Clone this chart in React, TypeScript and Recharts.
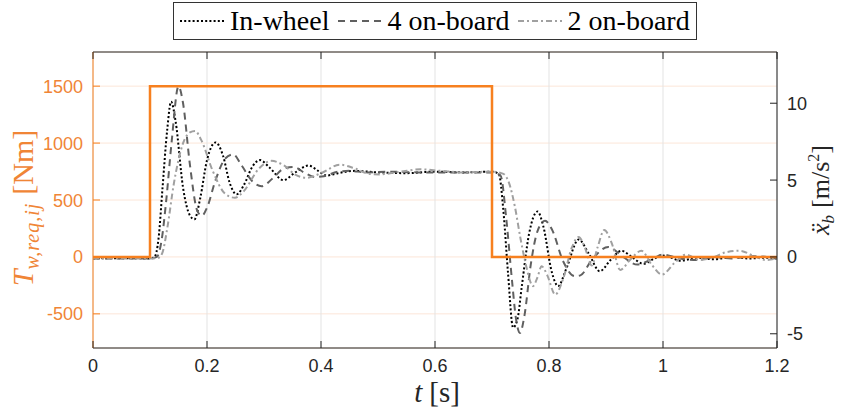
import React from 'react';
import { LineChart, Line, XAxis, YAxis, CartesianGrid } from 'recharts';

// ---------- data ----------
const timeTicks = [0, 0.2, 0.4, 0.6, 0.8, 1, 1.2];
const torqueTicks = [-500, 0, 500, 1000, 1500];
const accTicks = [-5, 0, 5, 10];
const torqueDomain = [-800, 1800];
const accDomain = [-800 / 135, 1800 / 135];

const seriesNames = ['In-wheel', '4 on-board', '2 on-board'];

// requested wheel torque [Nm] (step)
const stepT = [0, 0.1, 0.7, 1.2];
const stepTorque = [0, 1500, 0, 0];

// body acceleration [m/s^2]
const inWheelT = [0, 0.05, 0.1, 0.108, 0.115, 0.122, 0.13, 0.137, 0.145, 0.158, 0.17, 0.178, 0.188, 0.2, 0.215, 0.228, 0.24, 0.252, 0.265, 0.28, 0.293, 0.31, 0.334, 0.355, 0.378, 0.395, 0.41, 0.43, 0.46, 0.5, 0.55, 0.6, 0.65, 0.7, 0.712, 0.72, 0.728, 0.737, 0.745, 0.752, 0.765, 0.78, 0.79, 0.805, 0.816, 0.83, 0.852, 0.87, 0.889, 0.908, 0.927, 0.945, 0.966, 0.985, 0.998, 1.015, 1.03, 1.06, 1.09, 1.12, 1.15, 1.18, 1.2];
const inWheelAcc = [-0.1, -0.08, -0.1, 0.0, 1.2, 4.5, 8.2, 10.1, 8.8, 4.5, 2.7, 2.45, 3.8, 6.3, 7.45, 6.6, 4.8, 4.07, 4.7, 5.9, 6.3, 5.8, 5.0, 5.5, 5.95, 5.6, 5.3, 5.45, 5.6, 5.5, 5.45, 5.55, 5.5, 5.55, 5.4, 3.0, -1.0, -4.6, -4.0, -2.0, 1.5, 2.95, 2.0, -1.0, -1.9, -0.8, 1.13, 0.2, -0.93, -0.2, 0.4, 0.0, -0.45, -0.1, 0.1, -0.05, -0.25, -0.05, -0.15, 0.0, -0.1, -0.05, -0.1];

const fourOnBoardT = [0, 0.05, 0.1, 0.112, 0.12, 0.128, 0.138, 0.15, 0.158, 0.17, 0.183, 0.191, 0.2, 0.215, 0.232, 0.246, 0.26, 0.28, 0.296, 0.315, 0.335, 0.352, 0.37, 0.39, 0.405, 0.43, 0.45, 0.48, 0.52, 0.57, 0.62, 0.67, 0.7, 0.715, 0.725, 0.735, 0.742, 0.749, 0.757, 0.768, 0.78, 0.793, 0.805, 0.825, 0.845, 0.855, 0.875, 0.904, 0.93, 0.955, 0.98, 1.0, 1.03, 1.06, 1.09, 1.12, 1.16, 1.2];
const fourOnBoardAcc = [-0.1, -0.1, -0.1, 0.0, 1.0, 3.5, 7.5, 11.1, 10.0, 6.0, 3.0, 2.68, 3.2, 5.0, 6.4, 6.67, 6.0, 4.9, 4.6, 5.1, 5.75, 5.85, 5.5, 5.2, 5.25, 5.55, 5.6, 5.5, 5.55, 5.5, 5.5, 5.5, 5.5, 5.3, 2.5, -1.5, -4.0, -4.95, -3.8, -0.5, 1.7, 2.35, 1.8, -0.3, -1.25, -1.2, -0.2, 0.65, 0.0, -0.5, -0.15, 0.15, -0.1, -0.2, 0.0, -0.1, 0.05, -0.1];

const twoOnBoardT = [0, 0.05, 0.1, 0.115, 0.122, 0.13, 0.142, 0.158, 0.17, 0.179, 0.19, 0.21, 0.232, 0.249, 0.265, 0.29, 0.313, 0.335, 0.355, 0.375, 0.4, 0.433, 0.46, 0.485, 0.503, 0.54, 0.574, 0.61, 0.65, 0.7, 0.72, 0.73, 0.74, 0.75, 0.76, 0.772, 0.78, 0.787, 0.797, 0.811, 0.825, 0.84, 0.852, 0.863, 0.875, 0.885, 0.897, 0.91, 0.925, 0.942, 0.962, 0.98, 0.998, 1.02, 1.04, 1.065, 1.09, 1.11, 1.135, 1.16, 1.18, 1.2];
const twoOnBoardAcc = [-0.1, -0.1, -0.1, -0.05, 0.3, 1.8, 4.8, 7.4, 8.1, 8.2, 7.6, 5.6, 4.1, 3.85, 4.3, 5.7, 6.25, 5.95, 5.35, 5.15, 5.45, 6.0, 5.75, 5.4, 5.37, 5.55, 5.7, 5.6, 5.5, 5.55, 5.4, 4.8, 3.3, 1.2, -0.6, -1.9, -1.3, -0.6, -1.2, -2.45, -1.4, 0.6, 1.3, 0.6, -0.55, 0.6, 1.75, 0.9, -0.85, -0.2, 0.4, -0.5, -1.15, -0.4, 0.15, -0.2, 0.0, 0.3, 0.4, 0.05, -0.2, -0.1];

// ---------- styling ----------
const ORANGE = '#F7801F';
const ORANGE_TEXT = '#F08536';
const SERIF = '"Liberation Serif", "Times New Roman", serif';
const SANS = '"Liberation Sans", Arial, sans-serif';
const TICK_LEN = 7;

const toPoints = (ts: number[], vs: number[]) => ts.map((t, i) => ({ t, v: vs[i] }));

const seriesStyles = [
  { color: '#000000', dash: '2 2.2', width: 2 },
  { color: '#606060', dash: '7 5', width: 2 },
  { color: '#A0A0A0', dash: '6 3 2 3', width: 2 },
];
const seriesData = [
  toPoints(inWheelT, inWheelAcc),
  toPoints(fourOnBoardT, fourOnBoardAcc),
  toPoints(twoOnBoardT, twoOnBoardAcc),
];
const stepData = toPoints(stepT, stepTorque);

const fmt = (v: number) => String(v);

const BottomTick = (props: any) => {
  const { x, y, payload } = props;
  return (
    <g>
      <line x1={x} x2={x} y1={y} y2={y - TICK_LEN} stroke="#222" strokeWidth={1} />
      <text x={x} y={y + 24} textAnchor="middle" fontFamily={SANS} fontSize={18} fill="#262626">
        {fmt(payload.value)}
      </text>
    </g>
  );
};

const TopTick = (props: any) => {
  const { x, y } = props;
  return <line x1={x} x2={x} y1={y} y2={y + TICK_LEN} stroke="#222" strokeWidth={1} />;
};

const LeftTick = (props: any) => {
  const { x, y, payload } = props;
  return (
    <g>
      <line x1={x} x2={x + TICK_LEN} y1={y} y2={y} stroke={ORANGE} strokeWidth={1} />
      <text x={x - 10} y={y + 6.5} textAnchor="end" fontFamily={SANS} fontSize={18} fill={ORANGE_TEXT}>
        {fmt(payload.value)}
      </text>
    </g>
  );
};

const RightTick = (props: any) => {
  const { x, y, payload } = props;
  return (
    <g>
      <line x1={x} x2={x - TICK_LEN} y1={y} y2={y} stroke="#222" strokeWidth={1} />
      <text x={x + 10} y={y + 6.5} textAnchor="start" fontFamily={SANS} fontSize={18} fill="#262626">
        {fmt(payload.value)}
      </text>
    </g>
  );
};

const LeftTitle = () => (
  <text x={33} y={208} transform="rotate(-90, 33, 208)" textAnchor="middle" fontFamily={SERIF} fontSize={30} fill={ORANGE_TEXT}>
    <tspan fontStyle="italic">T</tspan>
    <tspan fontStyle="italic" fontSize={20} dy={6} letterSpacing={1}>w,req,ij</tspan>
    <tspan dy={-6} dx={8}>[Nm]</tspan>
  </text>
);

const RightTitle = () => (
  <text x={829} y={190} transform="rotate(-90, 829, 190)" textAnchor="middle" fontFamily={SERIF} fontSize={26} fill="#262626">
    <tspan fontStyle="italic">ẍ</tspan>
    <tspan fontStyle="italic" fontSize={17} dy={5}>b</tspan>
    <tspan dy={-5} dx={7}>[m/s</tspan>
    <tspan fontSize={16} dy={-10}>2</tspan>
    <tspan dy={10}>]</tspan>
  </text>
);

const BottomTitle = () => (
  <text x={437} y={402} textAnchor="middle" fontFamily={SERIF} fontSize={29} fill="#262626">
    <tspan fontStyle="italic">t</tspan>
    <tspan dx={7}>[s]</tspan>
  </text>
);

const LegendBox = () => (
  <div
    style={{
      position: 'absolute',
      left: 173,
      top: 2,
      height: 36,
      border: '1px solid #333',
      background: '#fff',
      display: 'flex',
      alignItems: 'center',
      padding: '0 6px',
      fontFamily: SERIF,
      fontSize: 28,
      color: '#000',
      whiteSpace: 'nowrap',
    }}
  >
    {seriesNames.map((name, i) => (
      <div key={name} style={{ display: 'flex', alignItems: 'center', marginLeft: i === 0 ? 0 : 8 }}>
        <svg width={44} height={10} style={{ display: 'block' }}>
          <line x1={0} x2={44} y1={5} y2={5} stroke={seriesStyles[i].color} strokeWidth={seriesStyles[i].width} strokeDasharray={seriesStyles[i].dash} />
        </svg>
        <span style={{ marginLeft: 6, lineHeight: '36px' }}>{name}</span>
      </div>
    ))}
  </div>
);

export default function App() {
  return (
    <div style={{ position: 'absolute', left: 0, top: 0, width: 841, height: 413, background: '#fff' }}>
      <LineChart width={841} height={413} margin={{ top: 42, right: 0, bottom: 0, left: 0 }}>
        <CartesianGrid xAxisId="bottom" yAxisId="left" vertical={false} stroke="#FCE6D8" strokeWidth={1} />
        <CartesianGrid xAxisId="bottom" yAxisId="left" horizontal={false} stroke="#E3E3E3" strokeWidth={1} />
        <XAxis
          xAxisId="bottom"
          type="number"
          dataKey="t"
          domain={[0, 1.2]}
          ticks={timeTicks}
          height={65}
          tickSize={0}
          tickMargin={0}
          tick={<BottomTick />}
          axisLine={{ stroke: '#222', strokeWidth: 1 }}
          allowDataOverflow
          label={{ content: () => <BottomTitle /> }}
        />
        <XAxis
          xAxisId="top"
          orientation="top"
          type="number"
          dataKey="t"
          domain={[0, 1.2]}
          ticks={timeTicks}
          height={10}
          tickSize={0}
          tickMargin={0}
          tick={<TopTick />}
          axisLine={{ stroke: '#222', strokeWidth: 1 }}
          allowDataOverflow
        />
        <YAxis
          yAxisId="left"
          orientation="left"
          type="number"
          domain={torqueDomain}
          ticks={torqueTicks}
          width={93}
          tickSize={0}
          tickMargin={0}
          tick={<LeftTick />}
          axisLine={{ stroke: ORANGE, strokeWidth: 1 }}
          allowDataOverflow
          label={{ content: () => <LeftTitle /> }}
        />
        <YAxis
          yAxisId="right"
          orientation="right"
          type="number"
          domain={accDomain}
          ticks={accTicks}
          width={64}
          tickSize={0}
          tickMargin={0}
          tick={<RightTick />}
          axisLine={{ stroke: '#222', strokeWidth: 1 }}
          allowDataOverflow
          label={{ content: () => <RightTitle /> }}
        />
        {seriesData.map((d, i) => (
          <Line
            key={seriesNames[i]}
            name={seriesNames[i]}
            data={d}
            dataKey="v"
            xAxisId="bottom"
            yAxisId="right"
            type="monotone"
            dot={false}
            activeDot={false}
            stroke={seriesStyles[i].color}
            strokeWidth={seriesStyles[i].width}
            strokeDasharray={seriesStyles[i].dash}
            isAnimationActive={false}
          />
        ))}
        <Line
          name="Torque request"
          data={stepData}
          dataKey="v"
          xAxisId="bottom"
          yAxisId="left"
          type="stepAfter"
          dot={false}
          activeDot={false}
          stroke={ORANGE}
          strokeWidth={2.5}
          isAnimationActive={false}
        />
      </LineChart>
      <LegendBox />
    </div>
  );
}
